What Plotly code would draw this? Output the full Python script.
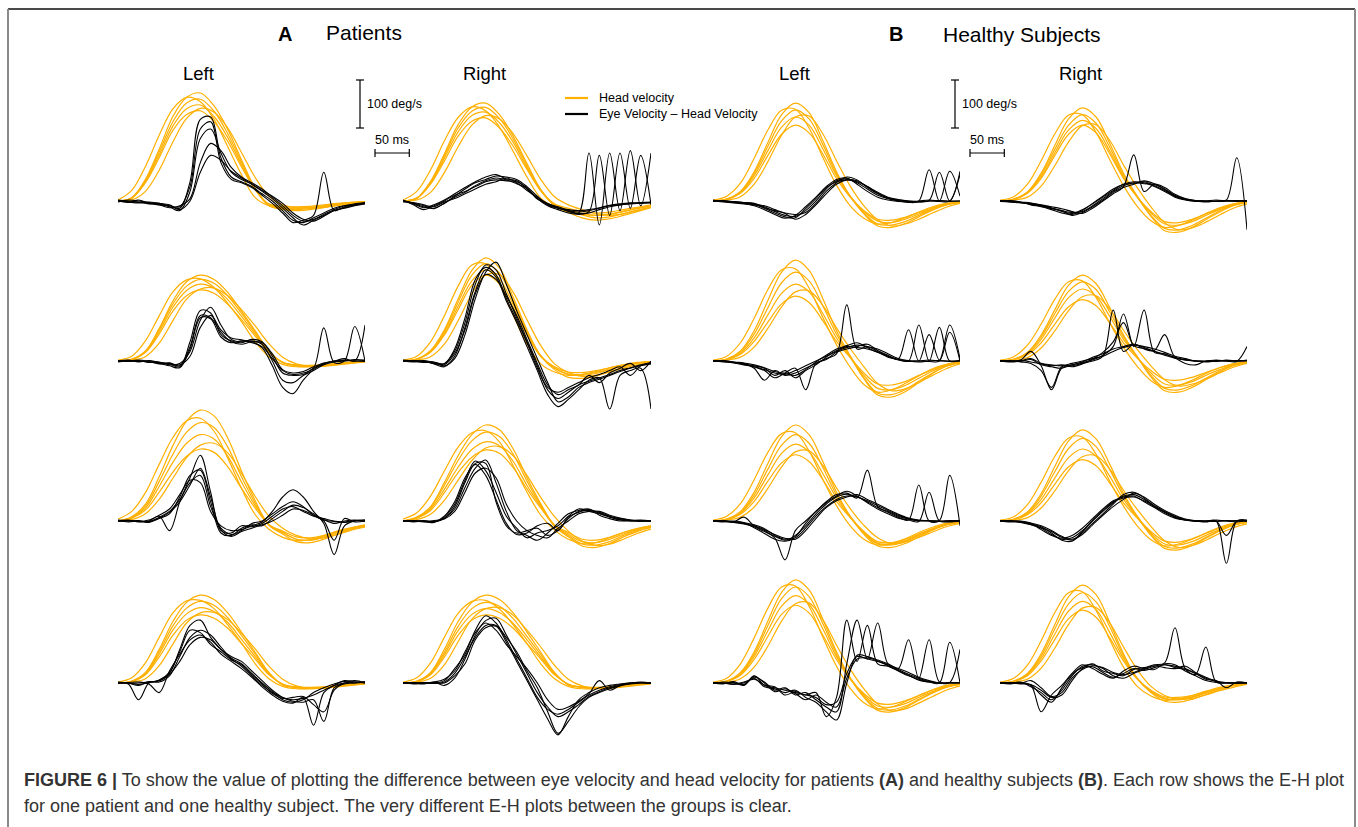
import plotly.graph_objects as go

W, H = 1358, 827

# time grids (ms)
T_HEAD = [0, 20, 40, 60, 80, 100, 120, 140, 160, 180, 200, 220, 240, 260, 280, 300, 320, 340, 360]
T_EH = [0, 15, 30, 45, 60, 75, 90, 105, 120, 135, 150, 165, 180, 195, 210, 225, 240, 255, 270, 285, 300, 315, 330, 345, 360]

COLUMN_TITLES = ["Left", "Right", "Left", "Right"]
GROUP_TITLES = [("A", "Patients"), ("B", "Healthy Subjects")]
LEGEND_LABELS = ["Head velocity", "Eye Velocity \u2013 Head Velocity"]
SCALE_LABELS = ["100 deg/s", "50 ms"]
SCALE_VALUES = [100, 50]

# ---------------- Row 1 ----------------
AL1_HEAD = [
    [0, 7, 45, 108, 176, 216, 225, 198, 149, 86, 27, -8, -14, -15, -14, -11, -7, -4, -2],
    [2, 22, 72, 137, 192, 216, 207, 170, 113, 55, 7, -10, -15, -15, -13, -10, -6, -3, -1],
    [0, 6, 42, 102, 165, 204, 212, 187, 140, 81, 25, -9, -16, -18, -16, -13, -8, -5, -2],
    [0, 6, 40, 96, 156, 192, 200, 176, 132, 76, 24, -6, -11, -12, -11, -8, -5, -3, -1],
    [0, 2, 20, 64, 123, 172, 193, 185, 152, 101, 49, 10, -8, -14, -15, -13, -9, -5, -2],
    [0, 6, 38, 90, 147, 180, 188, 165, 124, 71, 23, -10, -18, -20, -18, -14, -9, -5, -2],
]
AL1_EH = [
    [0, -3, 2, -5, -8, -10, -15, 40, 170, 175, 90, 50, 40, 30, 15, 0, -20, -40, -45, -35, -25, -15, -10, -8, -5],
    [2, 0, -2, -4, -6, -12, -20, 20, 130, 150, 100, 60, 45, 35, 20, 5, -15, -35, -50, -40, -30, -20, -15, -10, -6],
    [-2, 2, 0, -3, -8, -14, -10, 5, 80, 120, 105, 70, 50, 38, 25, 8, -10, -30, -42, -38, -28, -18, -10, -6, -3],
    [0, -2, -4, -2, -5, -8, -18, 0, 60, 95, 85, 62, 48, 35, 22, 10, -5, -25, -38, -42, -32, -20, -14, -8, -4],
    [1, -1, -3, -6, -5, -10, -12, 30, 150, 165, 80, 45, 38, 28, 12, -5, -25, -45, -40, -30, 60, -20, -12, -8, -5],
]
AR1_HEAD = [
    [0, 6, 41, 98, 159, 196, 204, 180, 135, 78, 24, -8, -18, -26, -30, -28, -22, -16, -10],
    [2, 20, 65, 125, 174, 196, 188, 154, 103, 50, 6, -12, -22, -28, -30, -27, -21, -15, -9],
    [0, 6, 39, 94, 152, 187, 195, 172, 129, 74, 23, -10, -24, -35, -40, -37, -30, -22, -14],
    [0, 6, 37, 89, 144, 178, 185, 163, 122, 70, 22, -6, -15, -22, -25, -23, -18, -13, -8],
    [0, 2, 18, 59, 113, 158, 178, 171, 140, 94, 45, 9, -8, -18, -26, -30, -27, -20, -13],
    [0, 5, 35, 83, 135, 166, 173, 152, 114, 66, 21, -9, -20, -29, -35, -33, -26, -19, -12],
]
AR1_EH = [
    [0, -5, -12, -15, -5, 10, 25, 38, 45, 52, 50, 45, 30, 10, -8, -15, -20, -23, -20, -15, -10, -8, -6, -5, -4],
    [2, -8, -18, -10, 0, 12, 20, 30, 40, 44, 42, 40, 28, 5, -10, -18, -25, -28, -25, -18, -12, -8, -5, -4, -2],
    [-2, -3, -8, -12, -2, 5, 15, 25, 35, 40, 48, 38, 22, 8, -5, -12, -18, -20, -18, -14, -9, -6, -4, -3, -3],
    [0, -6, -14, -8, 2, 15, 28, 40, 50, 55, 46, 42, 25, 6, -8, -15, -20, -25, 100, -50, 100, -20, 105, -10, 100],
    [1, -4, -10, -16, -4, 8, 18, 32, 42, 48, 44, 36, 26, 4, -6, -14, -22, -26, -22, 95, -30, 100, -15, 95, -8],
]
BL1_HEAD = [
    [0, 4, 20, 61, 122, 180, 204, 184, 126, 61, 10, -25, -48, -50, -43, -30, -18, -8, -3],
    [2, 10, 37, 89, 148, 189, 191, 152, 91, 33, -10, -36, -48, -45, -35, -23, -12, -5, -1],
    [0, 4, 19, 57, 114, 167, 190, 171, 118, 57, 10, -22, -42, -45, -38, -27, -16, -7, -2],
    [0, 4, 18, 53, 105, 154, 175, 158, 109, 53, 9, -27, -52, -55, -47, -33, -19, -8, -3],
    [0, 2, 9, 35, 82, 137, 175, 177, 140, 84, 31, -10, -39, -52, -48, -38, -25, -13, -5],
    [0, 3, 16, 47, 95, 139, 158, 142, 98, 47, 8, -20, -38, -40, -34, -24, -14, -6, -2],
]
BL1_EH = [
    [0, 1, -2, -4, -6, -12, -22, -30, -32, -20, 0, 25, 42, 46, 38, 25, 12, 5, 2, 0, -2, 0, 1, 0, 0],
    [2, -1, -3, -5, -10, -18, -28, -36, -30, -12, 8, 30, 45, 48, 35, 20, 8, 2, -1, -2, 0, 2, 0, -1, 0],
    [-1, 0, -1, -3, -8, -14, -20, -26, -38, -28, -8, 15, 35, 44, 42, 30, 18, 8, 3, 0, -1, 1, 60, 0, 55],
    [0, -2, -4, -6, -8, -10, -18, -25, -28, -24, -5, 20, 38, 50, 44, 28, 15, 6, 0, -3, 0, 65, 0, 62, 10],
    [1, 0, -2, -3, -5, -15, -25, -33, -35, -16, 5, 28, 40, 44, 40, 30, 16, 6, 1, -1, -2, 0, -1, 0, 62],
]
BR1_HEAD = [
    [0, 4, 19, 58, 116, 171, 194, 175, 120, 58, 10, -30, -57, -60, -51, -36, -21, -9, -3],
    [2, 9, 35, 84, 140, 179, 180, 143, 86, 32, -11, -41, -55, -51, -40, -26, -14, -6, -2],
    [0, 4, 18, 54, 108, 158, 180, 162, 112, 54, 9, -25, -48, -50, -43, -30, -18, -8, -3],
    [0, 3, 17, 50, 101, 148, 168, 151, 104, 50, 8, -32, -62, -65, -55, -39, -23, -10, -3],
    [0, 2, 8, 31, 74, 123, 157, 159, 126, 75, 28, -12, -45, -60, -56, -44, -29, -15, -6],
    [0, 3, 16, 47, 95, 139, 158, 142, 98, 47, 8, -22, -43, -45, -38, -27, -16, -7, -2],
]
BR1_EH = [
    [0, -1, -3, -6, -10, -15, -20, -24, -22, -10, 5, 20, 32, 38, 36, 34, 25, 12, 4, 0, -2, 0, 1, 0, 0],
    [1, 0, -2, -8, -12, -18, -25, -28, -20, -5, 10, 25, 35, 40, 38, 30, 20, 8, 2, -1, 0, 2, 0, -1, 0],
    [-1, -2, -4, -5, -8, -12, -16, -22, -26, -15, 0, 15, 30, 96, 20, 35, 28, 14, 5, 1, 0, -1, 0, 1, 0],
    [0, 1, -2, -4, -9, -14, -22, -26, -18, -6, 8, 22, 35, 36, 40, 32, 22, 10, 3, 0, -1, 0, 2, 90, -60],
    [0, -2, -3, -7, -11, -16, -20, -30, -24, -12, 2, 18, 28, 35, 42, 36, 24, 10, 3, 1, 0, -1, 0, 0, 1],
]

# ---------------- Row 2 ----------------
AL2_HEAD = [
    [0, 4, 21, 68, 125, 165, 179, 170, 143, 104, 63, 21, -3, -9, -10, -9, -6, -3, -1],
    [2, 10, 42, 94, 144, 169, 171, 153, 120, 82, 40, 9, -7, -12, -12, -9, -5, -2, 0],
    [0, 3, 20, 65, 119, 156, 170, 162, 136, 99, 60, 20, -3, -10, -12, -10, -7, -4, -2],
    [0, 3, 19, 61, 112, 147, 160, 152, 128, 93, 56, 19, -3, -8, -9, -8, -5, -3, -1],
    [0, 2, 9, 37, 84, 129, 150, 152, 136, 107, 73, 36, 8, -6, -11, -11, -8, -5, -2],
    [0, 3, 18, 56, 104, 136, 148, 141, 118, 86, 52, 18, -2, -9, -11, -9, -6, -3, -1],
]
AL2_EH = [
    [0, 2, -2, 1, -3, -6, -12, 40, 105, 100, 55, 42, 38, 45, 40, 10, -25, -30, -28, -15, -5, 0, 2, 0, 1],
    [-2, 0, 1, -3, -2, -8, -5, 20, 85, 112, 75, 45, 40, 42, 35, 0, -40, -45, -30, -20, -8, -2, 0, 3, 2],
    [1, -1, 0, -2, -5, -10, -14, 25, 90, 88, 50, 38, 42, 40, 28, -10, -55, -68, -40, -18, -6, -1, 1, 0, -1],
    [0, 1, -1, 0, -4, -5, -8, 10, 70, 95, 65, 48, 44, 38, 30, 5, -20, -28, -25, -15, 69, -3, 0, 72, 0],
    [-1, 0, 2, -1, -6, -4, -10, 30, 95, 90, 60, 40, 35, 40, 38, 15, -18, -25, -22, -12, -4, 0, 5, 0, 75],
]
AR2_HEAD = [
    [0, 4, 22, 65, 129, 189, 215, 194, 133, 65, 11, -15, -28, -30, -26, -18, -11, -5, -2],
    [2, 10, 40, 94, 156, 200, 202, 160, 96, 35, -6, -23, -30, -28, -22, -14, -8, -3, -1],
    [0, 4, 20, 61, 122, 179, 203, 183, 126, 61, 10, -18, -34, -36, -31, -22, -13, -5, -2],
    [0, 4, 19, 57, 114, 167, 190, 171, 118, 57, 10, -12, -23, -24, -20, -14, -8, -4, -1],
    [0, 2, 9, 35, 84, 140, 179, 180, 143, 86, 32, -6, -24, -32, -30, -23, -15, -8, -3],
    [0, 4, 18, 54, 107, 158, 179, 161, 111, 54, 9, -14, -27, -28, -24, -17, -10, -4, -1],
]
AR2_EH = [
    [0, -2, 1, -3, -5, 20, 80, 160, 200, 190, 140, 90, 40, -10, -60, -78, -65, -50, -42, -35, -28, -20, -14, -8, -5],
    [1, 0, -2, -4, -10, 5, 55, 130, 185, 206, 160, 105, 55, 5, -45, -85, -75, -55, -45, -38, -30, -22, -15, -10, -6],
    [-1, 1, 0, -6, -12, 10, 70, 145, 190, 175, 125, 80, 30, -20, -70, -95, -80, -60, -40, -35, -100, -30, -20, -15, -100],
    [0, -1, -3, -2, -8, 15, 65, 140, 180, 170, 135, 95, 45, -5, -50, -70, -60, -50, -30, -45, -25, -15, -5, -20, 0],
    [2, 0, -1, -5, -6, 25, 90, 170, 195, 180, 130, 85, 38, -15, -55, -65, -55, -45, -35, -28, -20, -12, -30, -10, -3],
]
BL2_HEAD = [
    [0, 4, 21, 63, 126, 185, 210, 189, 130, 63, 11, -35, -67, -70, -60, -42, -25, -11, -4],
    [2, 10, 38, 89, 149, 190, 192, 152, 91, 34, -13, -49, -65, -60, -47, -31, -16, -7, -2],
    [0, 4, 19, 56, 111, 163, 185, 167, 115, 56, 9, -30, -57, -60, -51, -36, -21, -9, -3],
    [0, 3, 16, 48, 96, 141, 160, 144, 99, 48, 8, -37, -71, -75, -64, -45, -26, -11, -4],
    [0, 2, 8, 29, 68, 113, 144, 146, 116, 69, 26, -12, -47, -62, -58, -45, -30, -16, -6],
    [0, 3, 14, 41, 81, 119, 135, 122, 84, 41, 7, -25, -48, -50, -43, -30, -18, -8, -3],
]
BL2_EH = [
    [0, -1, -4, -8, -12, -18, -25, -28, -20, -10, 0, 10, 20, 28, 33, 30, 25, 15, 5, 0, -2, 0, 1, 0, 0],
    [1, 0, -3, -5, -15, -40, -20, -30, -25, -15, -5, 5, 15, 117, 25, 30, 20, 10, 2, -1, 0, 2, 0, -1, 0],
    [-1, 0, -2, -6, -10, -15, -30, -20, -35, -20, -8, 8, 22, 30, 28, 25, 18, 8, 3, 0, 75, 0, 70, 0, 2],
    [0, -2, -3, -7, -12, -20, -35, -25, -15, -60, -5, 3, 18, 25, 30, 35, 22, 12, 4, 65, 0, 55, 2, 75, 5],
    [0, 1, -2, -4, -8, -14, -22, -26, -30, -18, -2, 12, 25, 32, 38, 28, 18, 10, 3, 1, 0, -1, 0, 60, 0],
]
BR2_HEAD = [
    [0, 4, 18, 54, 107, 158, 179, 161, 111, 54, 9, -30, -57, -60, -51, -36, -21, -9, -3],
    [2, 9, 33, 77, 129, 165, 167, 132, 79, 29, -11, -41, -55, -51, -40, -26, -14, -6, -2],
    [0, 3, 17, 50, 99, 145, 165, 149, 102, 50, 8, -25, -48, -50, -43, -30, -18, -8, -3],
    [0, 3, 15, 45, 90, 132, 150, 135, 93, 45, 8, -33, -62, -65, -55, -39, -23, -10, -3],
    [0, 1, 7, 27, 63, 105, 134, 136, 108, 64, 24, -10, -39, -52, -48, -38, -25, -13, -5],
    [0, 3, 13, 38, 77, 113, 128, 115, 79, 38, 6, -20, -38, -40, -34, -24, -14, -6, -2],
]
BR2_EH = [
    [0, -2, 0, 5, -5, -8, -10, -5, 0, 5, 10, 20, 28, 33, 30, 25, 18, 10, 5, 0, -2, 0, 1, 0, 2],
    [1, 0, 2, 20, -10, -60, -15, -8, -2, 8, 15, 25, 30, 35, 28, 20, 12, 6, 2, 0, 0, 2, 0, -1, 30],
    [-1, 1, -2, -5, -20, -55, -12, -10, -5, 0, 10, 106, 20, 35, 25, 22, 55, 8, 3, 0, -1, 1, 0, 0, 1],
    [0, 0, -1, 3, -8, -12, -15, -8, -3, 2, 12, 30, 98, 30, 106, 18, 15, 6, -5, -8, 0, -1, 2, 0, 0],
    [0, -1, 1, -2, -6, -10, -8, -12, -6, 4, 18, 40, 80, 32, 26, 20, 14, 8, 2, 0, -1, 0, 0, 1, 1],
]

# ---------------- Row 3 ----------------
AL3_HEAD = [
    [0, 9, 35, 92, 157, 208, 231, 219, 173, 104, 42, -8, -24, -38, -40, -34, -24, -16, -10],
    [4, 20, 59, 118, 174, 209, 214, 187, 131, 68, 13, -17, -34, -41, -39, -31, -21, -14, -8],
    [0, 8, 31, 82, 139, 185, 205, 195, 154, 92, 37, -9, -27, -43, -45, -38, -27, -18, -11],
    [0, 7, 27, 72, 122, 162, 180, 171, 135, 81, 32, -7, -21, -33, -35, -30, -21, -14, -9],
    [0, 3, 15, 45, 89, 132, 158, 162, 142, 99, 51, 10, -15, -30, -37, -35, -28, -19, -13],
    [0, 6, 23, 60, 102, 135, 150, 143, 113, 68, 27, -8, -24, -38, -40, -34, -24, -16, -10],
]
AL3_EH = [
    [0, 2, -2, 0, 10, -20, 40, 90, 137, 60, -20, -25, -10, -12, -5, 10, 25, 30, 20, 10, 5, 0, -3, 0, 2],
    [-1, 0, 1, -3, 5, 15, 50, 95, 106, 40, -25, -30, -15, -8, -10, 5, 20, 33, 28, 15, 3, -5, 0, 2, 0],
    [1, -2, 0, -2, 8, 20, 45, 80, 95, 30, -15, -28, -20, -5, 0, 15, 30, 40, 30, 12, 2, -1, -2, 1, -1],
    [0, 1, -1, 2, 12, 25, 55, 85, 80, 20, -10, -20, -18, -10, -2, 20, 50, 65, 50, 20, -5, -70, -10, 0, 2],
    [2, 0, -1, -1, 6, 18, 40, 75, 110, 50, -18, -32, -22, -15, -8, 0, 12, 25, 22, 12, 0, -40, 5, -2, 0],
]
AR3_HEAD = [
    [0, 8, 30, 80, 136, 180, 200, 190, 150, 90, 36, -10, -30, -48, -50, -43, -30, -20, -13],
    [4, 17, 52, 104, 154, 184, 188, 165, 115, 60, 12, -19, -38, -47, -45, -35, -24, -16, -10],
    [0, 7, 28, 74, 126, 167, 185, 176, 139, 83, 33, -9, -27, -43, -45, -38, -27, -18, -11],
    [0, 7, 25, 66, 112, 149, 165, 157, 124, 74, 30, -11, -33, -52, -55, -47, -33, -22, -14],
    [0, 3, 14, 43, 85, 126, 152, 155, 136, 95, 49, 9, -21, -42, -51, -48, -38, -26, -17],
    [0, 6, 22, 59, 101, 133, 148, 141, 111, 67, 27, -8, -24, -38, -40, -34, -24, -16, -10],
]
AR3_EH = [
    [0, -1, 1, -2, 5, 30, 80, 120, 120, 40, -10, -25, -20, -15, -30, -20, 5, 20, 22, 18, 10, 5, 2, 0, 1],
    [1, 0, -2, -3, 8, 35, 85, 125, 105, 60, 10, -15, -35, -25, -20, -10, 10, 25, 20, 15, 8, 3, 0, -1, 0],
    [-1, 1, 0, -1, 6, 25, 70, 110, 127, 80, 20, -20, -30, -40, -25, -5, 15, 22, 25, 12, 5, 0, 1, 2, 0],
    [0, 0, -1, 1, 4, 20, 60, 100, 110, 90, 35, 0, -20, -30, -35, -15, 0, 15, 20, 20, 12, 6, 2, 0, -1],
    [1, -2, 0, -2, 10, 40, 90, 118, 95, 45, -5, -28, -25, -10, -5, -20, 8, 18, 24, 16, 9, 2, 0, 1, 1],
]
BL3_HEAD = [
    [0, 4, 20, 60, 120, 176, 200, 180, 124, 60, 10, -25, -48, -50, -43, -30, -18, -8, -3],
    [2, 10, 36, 86, 143, 182, 184, 146, 87, 32, -10, -38, -50, -47, -37, -24, -13, -5, -2],
    [0, 4, 18, 54, 108, 158, 180, 162, 112, 54, 9, -28, -52, -55, -47, -33, -19, -8, -3],
    [0, 3, 16, 48, 96, 141, 160, 144, 99, 48, 8, -22, -43, -45, -38, -27, -16, -7, -2],
    [0, 2, 8, 29, 68, 113, 144, 146, 116, 69, 26, -9, -35, -47, -44, -34, -23, -12, -5],
    [0, 3, 14, 41, 83, 121, 138, 124, 86, 41, 7, -24, -46, -48, -41, -29, -17, -7, -2],
]
BL3_EH = [
    [0, -1, -3, -6, -12, -22, -32, -40, -30, -10, 15, 35, 50, 56, 50, 42, 32, 22, 12, 5, 1, 0, -1, 0, 0],
    [1, 0, -2, 8, -10, -20, -35, -81, -20, 0, 20, 40, 55, 58, 48, 106, 30, 20, 10, 4, 0, 1, 0, -2, 0],
    [-1, 1, -1, -4, -14, -26, -38, -42, -35, -15, 10, 30, 45, 52, 50, 40, 28, 18, 8, 2, 75, 0, 1, 95, -10],
    [0, 0, -2, -5, -10, -18, -28, -36, -38, -20, 5, 28, 42, 50, 55, 45, 35, 24, 14, 6, 2, 0, 0, 1, 1],
    [0, -2, 0, -3, -8, -16, -30, -38, -32, -5, 20, 38, 52, 62, 52, 38, 25, 15, 6, 2, -1, 60, 0, -1, 0],
]
BR3_HEAD = [
    [0, 4, 19, 57, 114, 167, 190, 171, 118, 57, 10, -28, -53, -56, -48, -34, -20, -8, -3],
    [2, 9, 34, 81, 135, 173, 175, 139, 83, 31, -10, -39, -52, -48, -38, -25, -13, -5, -2],
    [0, 3, 17, 52, 103, 151, 172, 155, 107, 52, 9, -25, -48, -50, -43, -30, -18, -8, -3],
    [0, 3, 15, 45, 90, 132, 150, 135, 93, 45, 8, -30, -57, -60, -51, -36, -21, -9, -3],
    [0, 1, 7, 27, 63, 105, 134, 136, 108, 64, 24, -11, -41, -55, -51, -40, -26, -14, -6],
    [0, 3, 13, 38, 77, 113, 128, 115, 79, 38, 6, -22, -42, -44, -37, -26, -15, -7, -2],
]
BR3_EH = [
    [0, -1, -3, -8, -15, -28, -38, -35, -20, 0, 20, 38, 52, 55, 45, 32, 20, 10, 3, 0, -1, 0, 1, 0, 0],
    [1, 0, -2, -6, -12, -25, -40, -42, -25, -5, 15, 35, 55, 60, 48, 30, 18, 8, 2, 1, 0, -1, 0, -2, 1],
    [-1, 1, -1, -5, -18, -30, -36, -30, -15, 5, 25, 42, 50, 52, 40, 28, 15, 6, 2, 0, -2, 0, -88, 0, 2],
    [0, 0, -2, -7, -14, -22, -34, -38, -28, -8, 12, 30, 45, 58, 50, 35, 22, 12, 4, 1, 0, 2, 0, 1, 0],
    [0, -2, 0, -4, -10, -20, -32, -40, -22, 2, 22, 40, 48, 50, 42, 30, 18, 8, 2, -1, 0, 0, -30, 0, -1],
]

# ---------------- Row 4 ----------------
AL4_HEAD = [
    [0, 4, 22, 70, 128, 168, 183, 174, 146, 106, 64, 22, -4, -9, -10, -9, -6, -3, -1],
    [2, 11, 42, 95, 146, 171, 172, 155, 121, 83, 40, 9, -7, -12, -12, -9, -5, -2, 0],
    [0, 3, 20, 65, 119, 156, 170, 162, 136, 99, 60, 20, -3, -10, -12, -10, -7, -4, -2],
    [0, 3, 19, 60, 110, 144, 157, 149, 126, 91, 55, 19, -3, -8, -9, -8, -5, -3, -1],
    [0, 2, 9, 36, 81, 125, 146, 147, 132, 104, 71, 35, 8, -6, -11, -11, -8, -5, -2],
    [0, 3, 17, 54, 99, 131, 142, 135, 114, 82, 50, 17, -2, -9, -11, -9, -6, -3, -1],
]
AL4_EH = [
    [0, -2, -35, 0, 5, 20, 70, 120, 131, 95, 70, 50, 35, 15, -5, -20, -30, -35, -32, -25, -15, -5, 0, 2, 1],
    [1, 0, -5, 3, 2, 15, 55, 95, 110, 100, 75, 52, 40, 20, 0, -18, -35, -40, -35, -20, -10, -2, 3, 0, 2],
    [-1, 1, 2, -2, -20, 25, 60, 90, 100, 85, 60, 45, 30, 12, -8, -25, -38, -42, -30, -88, -20, -5, 5, 2, 0],
    [0, -1, 0, 2, 4, 18, 45, 80, 95, 90, 70, 55, 45, 25, 5, -15, -30, -38, -40, -35, -80, -10, -2, 0, 3],
    [2, 0, -3, 1, 6, 22, 65, 110, 105, 80, 65, 48, 38, 18, -2, -22, -32, -30, -28, -45, -60, -15, 0, 5, 0],
]
AR4_HEAD = [
    [0, 4, 22, 70, 128, 168, 183, 174, 146, 106, 64, 22, -4, -9, -10, -9, -6, -3, -1],
    [2, 11, 42, 95, 145, 170, 172, 154, 121, 82, 40, 9, -7, -12, -12, -9, -5, -2, 0],
    [0, 3, 20, 64, 118, 155, 168, 160, 134, 97, 59, 20, -3, -9, -11, -9, -6, -3, -1],
    [0, 3, 19, 59, 109, 143, 155, 147, 124, 90, 54, 19, -3, -8, -9, -8, -5, -3, -1],
    [0, 2, 10, 38, 86, 133, 155, 157, 141, 110, 75, 37, 8, -6, -11, -11, -8, -5, -2],
    [0, 3, 17, 54, 99, 131, 142, 135, 114, 82, 50, 17, -2, -9, -11, -9, -6, -3, -1],
]
AR4_EH = [
    [0, -1, 1, 0, 5, 30, 60, 110, 140, 125, 90, 50, 10, -30, -55, -65, -55, -40, -25, -15, -8, -3, 0, 1, 0],
    [1, 0, -2, 2, -5, 10, 50, 100, 130, 135, 100, 60, 20, -20, -50, -70, -60, -45, -28, -18, -10, -5, -2, 0, 1],
    [-1, 1, 0, -1, 2, 20, 55, 95, 120, 120, 95, 65, 25, -10, -60, -105, -80, -50, -30, -20, -12, -6, -1, 2, 0],
    [0, 0, -1, 1, 0, 15, 40, 90, 115, 118, 85, 45, 5, -35, -75, -108, -70, -35, -20, -10, -5, -2, 0, 0, -1],
    [1, -2, 0, 2, 8, 25, 65, 105, 125, 110, 80, 55, 30, 0, -35, -55, -50, -38, -22, 5, -15, -5, 0, 1, 0],
]
BL4_HEAD = [
    [0, 4, 22, 65, 129, 189, 215, 194, 133, 65, 11, -28, -53, -56, -48, -34, -20, -8, -3],
    [2, 10, 40, 94, 156, 200, 202, 160, 96, 35, -11, -41, -54, -50, -39, -26, -14, -5, -2],
    [0, 4, 20, 60, 120, 176, 200, 180, 124, 60, 10, -25, -48, -50, -43, -30, -18, -8, -3],
    [0, 4, 18, 55, 109, 160, 182, 164, 113, 55, 9, -30, -57, -60, -51, -36, -21, -9, -3],
    [0, 2, 9, 33, 77, 129, 165, 167, 132, 79, 29, -12, -44, -58, -54, -42, -28, -15, -6],
    [0, 3, 16, 49, 97, 143, 162, 146, 100, 49, 8, -22, -42, -44, -37, -26, -15, -7, -2],
]
BL4_EH = [
    [0, -2, 3, -5, 15, -5, -10, -15, -20, -25, -30, -45, -40, 20, 55, 50, 45, 38, 30, 22, 12, 5, 0, 1, 0],
    [1, 0, -3, 0, 10, -8, -12, -20, -15, -30, -40, -60, -77, 0, 58, 55, 48, 40, 28, 18, 10, 3, 0, 0, 1],
    [-1, 2, 0, -4, 12, 2, -15, -10, -25, -20, -35, -50, -60, 40, 131, 50, 125, 40, 30, 90, 10, 90, 2, 0, 0],
    [0, 0, -2, 2, 8, -4, -8, -25, -18, -25, -20, -70, -30, 131, 45, 120, 40, 35, 25, 15, 8, 2, 0, 85, 0],
    [0, -1, 1, -3, 14, 0, -18, -12, -22, -35, -25, -40, -50, 10, 50, 52, 46, 36, 26, 16, 6, 2, 0, 1, 70],
]
BR4_HEAD = [
    [0, 4, 20, 61, 122, 180, 204, 184, 126, 61, 10, -18, -33, -35, -30, -21, -12, -5, -2],
    [2, 10, 37, 88, 147, 188, 190, 151, 90, 33, -7, -27, -36, -33, -26, -17, -9, -4, -1],
    [0, 4, 19, 56, 113, 165, 188, 169, 117, 56, 9, -20, -38, -40, -34, -24, -14, -6, -2],
    [0, 3, 17, 51, 102, 150, 170, 153, 105, 51, 9, -15, -29, -30, -26, -18, -11, -5, -2],
    [0, 2, 8, 31, 73, 122, 156, 157, 125, 75, 28, -7, -26, -34, -32, -25, -16, -9, -3],
    [0, 3, 15, 46, 91, 134, 152, 137, 94, 46, 8, -17, -32, -34, -29, -20, -12, -5, -2],
]
BR4_EH = [
    [0, -1, 2, -8, -20, -35, -15, 15, 35, 38, 30, 15, 10, 20, 28, 35, 38, 35, 30, 20, 10, 3, 0, 1, 0],
    [1, 0, -2, -5, -60, -25, -5, 20, 38, 30, 18, 10, 25, 35, 30, 28, 40, 38, 25, 15, 5, 1, 0, 0, 1],
    [-1, 1, 0, -3, -15, -30, -25, 5, 30, 40, 25, 20, 15, 28, 32, 38, 42, 115, 30, 18, 75, 2, 0, -1, 0],
    [0, 0, -1, 5, -10, -28, -20, 10, 28, 36, 32, 22, 18, 22, 30, 36, 32, 30, 35, 22, 12, 4, 1, 0, 0],
    [0, -2, 1, -4, -25, -40, -10, 18, 32, 34, 22, 12, 20, 30, 26, 32, 38, 32, 28, 20, 8, 5, -10, 2, 0],
]

GRID = [
    [(AL1_HEAD, AL1_EH), (AR1_HEAD, AR1_EH), (BL1_HEAD, BL1_EH), (BR1_HEAD, BR1_EH)],
    [(AL2_HEAD, AL2_EH), (AR2_HEAD, AR2_EH), (BL2_HEAD, BL2_EH), (BR2_HEAD, BR2_EH)],
    [(AL3_HEAD, AL3_EH), (AR3_HEAD, AR3_EH), (BL3_HEAD, BL3_EH), (BR3_HEAD, BR3_EH)],
    [(AL4_HEAD, AL4_EH), (AR4_HEAD, AR4_EH), (BL4_HEAD, BL4_EH), (BR4_HEAD, BR4_EH)],
]

# ---------------- geometry (pixels) ----------------
COL_X = [(118, 365), (403, 651), (713, 960), (1000, 1247)]
ROW_BASE = [201, 361, 521, 683]
X_RANGE = [0, 360]
Y_RANGE = [-125, 260]
PX_PER_DEG = 0.48
PX_PER_MS = (COL_X[0][1] - COL_X[0][0]) / (X_RANGE[1] - X_RANGE[0])

HEAD_COLOR = "#FFB000"
EH_COLOR = "#000000"
FONT = "Liberation Sans, Arial, Helvetica, sans-serif"


def fx(p):
    return p / W


def fy(p):
    return 1 - p / H


fig = go.Figure()
layout = {}
idx = 0
for r, row in enumerate(GRID):
    base = ROW_BASE[r]
    top_px = base - Y_RANGE[1] * PX_PER_DEG
    bot_px = base - Y_RANGE[0] * PX_PER_DEG
    for c, (head, eh) in enumerate(row):
        idx += 1
        sfx = "" if idx == 1 else str(idx)
        x0, x1 = COL_X[c]
        layout["xaxis" + sfx] = dict(domain=[fx(x0), fx(x1)], range=X_RANGE, visible=False,
                                    anchor="y" + sfx, fixedrange=True)
        layout["yaxis" + sfx] = dict(domain=[fy(bot_px), fy(top_px)], range=Y_RANGE, visible=False,
                                    anchor="x" + sfx, fixedrange=True)
        for tr in head:
            fig.add_trace(go.Scatter(x=T_HEAD, y=tr, mode="lines", xaxis="x" + sfx, yaxis="y" + sfx,
                                     line=dict(color=HEAD_COLOR, width=1.2, shape="spline", smoothing=1.0),
                                     showlegend=False, hoverinfo="skip"))
        for tr in eh:
            fig.add_trace(go.Scatter(x=T_EH, y=tr, mode="lines", xaxis="x" + sfx, yaxis="y" + sfx,
                                     line=dict(color=EH_COLOR, width=1.1, shape="spline", smoothing=1.0),
                                     showlegend=False, hoverinfo="skip"))

shapes = []
annotations = []


def line_px(xa, ya, xb, yb, color="#000", width=1.2):
    shapes.append(dict(type="line", xref="paper", yref="paper", x0=fx(xa), y0=fy(ya), x1=fx(xb), y1=fy(yb),
                       line=dict(color=color, width=width)))


def text_px(x, y, s, size, xanchor="left", color="#000", bold=False):
    annotations.append(dict(xref="paper", yref="paper", x=fx(x), y=fy(y), text=("<b>%s</b>" % s) if bold else s,
                            showarrow=False, xanchor=xanchor, yanchor="middle",
                            font=dict(family=FONT, size=size, color=color)))


# figure frame
line_px(8, 9, 1355, 9, color="#4a4a4a", width=2)
line_px(8, 9, 8, 830, color="#8a8a8a", width=2)
line_px(1355, 9, 1355, 830, color="#8a8a8a", width=2)

# group titles
text_px(285, 34, GROUP_TITLES[0][0], 20, xanchor="center", bold=True)
text_px(324, 33, GROUP_TITLES[0][1], 21)
text_px(896, 34, GROUP_TITLES[1][0], 20, xanchor="center", bold=True)
text_px(941, 34, GROUP_TITLES[1][1], 21)

# column titles
for c, name in enumerate(COLUMN_TITLES):
    cx = [198, 484, 794, 1080][c]
    text_px(cx, 73, name, 18.5, xanchor="center")

# scale bars
for sx in (360, 955):
    v_len = SCALE_VALUES[0] * PX_PER_DEG
    y_top, y_bot = 80, 80 + v_len
    line_px(sx, y_top, sx, y_bot)
    line_px(sx - 4, y_top, sx + 4, y_top)
    line_px(sx - 4, y_bot, sx + 4, y_bot)
    text_px(sx + 5, 104, SCALE_LABELS[0], 12.5)
    hx0 = sx + 15
    h_len = SCALE_VALUES[1] * PX_PER_MS
    line_px(hx0, 153, hx0 + h_len, 153)
    line_px(hx0, 149, hx0, 157)
    line_px(hx0 + h_len, 149, hx0 + h_len, 157)
    text_px(hx0 + h_len / 2, 140, SCALE_LABELS[1], 12.5, xanchor="center")

# legend
line_px(565, 98, 588, 98, color=HEAD_COLOR, width=2.2)
text_px(597, 98, LEGEND_LABELS[0], 12.5)
line_px(565, 114, 588, 114, color=EH_COLOR, width=2.2)
text_px(597, 114, LEGEND_LABELS[1], 12.5)

# caption
CAP1 = ("<b>FIGURE 6 |</b> To show the value of plotting the difference between eye velocity and head velocity "
        "for patients <b>(A)</b> and healthy subjects <b>(B)</b>. Each row shows the E-H plot")
CAP2 = "for one patient and one healthy subject. The very different E-H plots between the groups is clear."
text_px(22, 780, CAP1, 18, color="#333333")
text_px(22, 806, CAP2, 18, color="#333333")

layout.update(dict(width=W, height=H, margin=dict(l=0, r=0, t=0, b=0), paper_bgcolor="white",
                   plot_bgcolor="rgba(0,0,0,0)", showlegend=False, shapes=shapes, annotations=annotations))
fig.update_layout(**layout)
fig.write_html("out.html", config={"displayModeBar": False, "staticPlot": True},
               post_script="document.body.style.margin='0';document.body.style.overflow='hidden';")
